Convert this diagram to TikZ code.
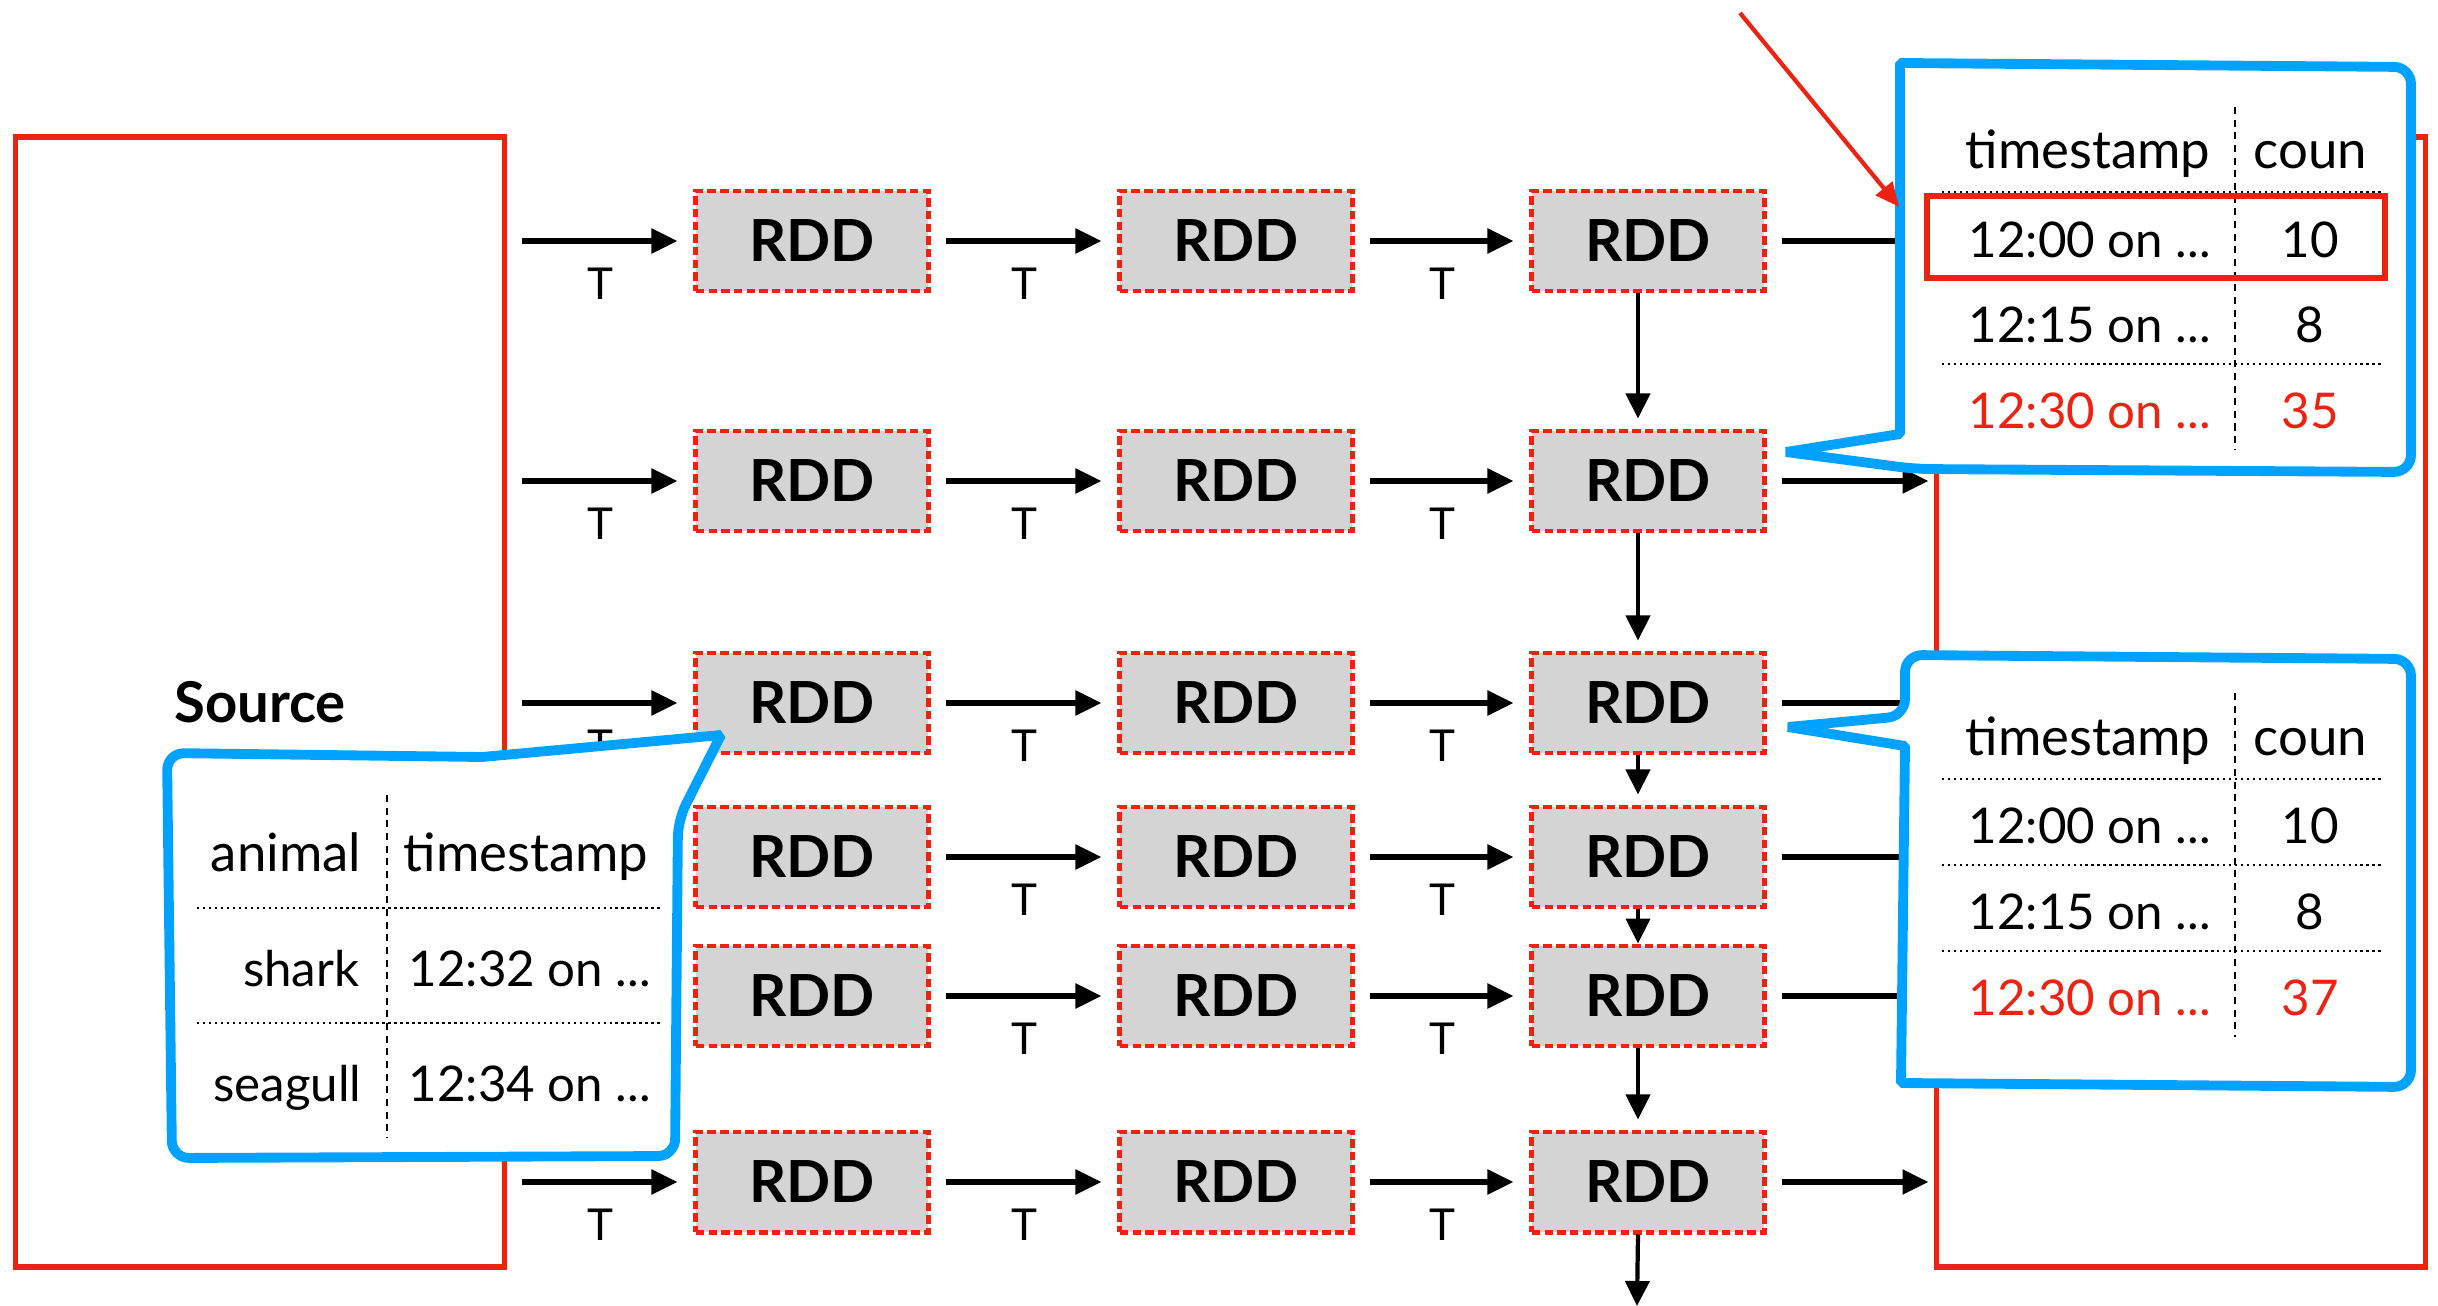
\documentclass[tikz,border=0pt]{standalone}
\usepackage{fontspec}
\setmainfont{Lato}
\usetikzlibrary{arrows.meta,quotes,positioning}

\definecolor{boxred}{RGB}{238,34,17}
\definecolor{callblue}{RGB}{0,162,255}
\definecolor{rddgray}{RGB}{212,212,212}

\begin{document}
\begin{tikzpicture}[x=0.01cm, y=-0.01cm,
  rdd/.style={draw=boxred, fill=rddgray, line width=1.4pt, dash pattern=on 2.4pt off 1.2pt,
    minimum width=2.32cm, minimum height=1cm, inner sep=0pt, font=\fontsize{16.5}{19}\selectfont\bfseries},
  stream/.style={draw=boxred, line width=1.6pt, minimum width=4.89cm, minimum height=11.29cm,
    inner sep=0pt, font=\fontsize{16}{19}\selectfont\bfseries},
  flow/.style={line width=1.5pt, -{Triangle[length=0.26cm,width=0.24cm]}, shorten <=0.15cm, shorten >=0.16cm},
  down/.style={line width=1.2pt, -{Triangle[length=0.25cm,width=0.24cm]}, shorten >=0.1cm},
  pointer/.style={draw=boxred, line width=1.2pt, -{Triangle[length=0.24cm,width=0.21cm]}, shorten >=0.39cm},
  callout/.style={draw=callblue, fill=white, line width=2.8pt, line join=bevel},
  cell/.style={inner sep=0pt, font=\fontsize{14}{17}\selectfont},
  head/.style={inner sep=0pt, font=\fontsize{15}{18}\selectfont},
  rowline/.style={densely dotted, line width=0.7pt},
  colline/.style={dash pattern=on 2pt off 1.6pt, line width=0.6pt},
  every edge quotes/.append style={font=\fontsize{12.5}{15}\selectfont, inner sep=0.24cm}]
\useasboundingbox (0,0) rectangle (2438,1306);

% input and output streams
\node[stream] (source) at (260,702) {Source};
\node[stream] (sink) at (2181,702) {};

% RDDs, one row per batch
\node[rdd] (r1c1) at (812,241) {RDD};
\node[rdd] (r1c2) at (1236,241) {RDD};
\node[rdd] (r1c3) at (1648,241) {RDD};
\node[rdd] (r2c1) at (812,481) {RDD};
\node[rdd] (r2c2) at (1236,481) {RDD};
\node[rdd] (r2c3) at (1648,481) {RDD};
\node[rdd] (r3c1) at (812,703) {RDD};
\node[rdd] (r3c2) at (1236,703) {RDD};
\node[rdd] (r3c3) at (1648,703) {RDD};
\node[rdd] (r4c1) at (812,857) {RDD};
\node[rdd] (r4c2) at (1236,857) {RDD};
\node[rdd] (r4c3) at (1648,857) {RDD};
\node[rdd] (r5c1) at (812,996) {RDD};
\node[rdd] (r5c2) at (1236,996) {RDD};
\node[rdd] (r5c3) at (1648,996) {RDD};
\node[rdd] (r6c1) at (812,1182) {RDD};
\node[rdd] (r6c2) at (1236,1182) {RDD};
\node[rdd] (r6c3) at (1648,1182) {RDD};
\coordinate (bot) at (1637,1306);

\draw[flow] (source.east |- r1c1) to ["T"'] (r1c1);
\draw[flow] (r1c1) to ["T"'] (r1c2);
\draw[flow] (r1c2) to ["T"'] (r1c3);
\draw[flow] (source.east |- r2c1) to ["T"'] (r2c1);
\draw[flow] (r2c1) to ["T"'] (r2c2);
\draw[flow] (r2c2) to ["T"'] (r2c3);
\draw[flow] (source.east |- r3c1) to ["T"'] (r3c1);
\draw[flow] (r3c1) to ["T"'] (r3c2);
\draw[flow] (r3c2) to ["T"'] (r3c3);
\draw[flow] (r4c1) to ["T"'] (r4c2);
\draw[flow] (r4c2) to ["T"'] (r4c3);
\draw[flow] (r5c1) to ["T"'] (r5c2);
\draw[flow] (r5c2) to ["T"'] (r5c3);
\draw[flow] (source.east |- r6c1) to ["T"'] (r6c1);
\draw[flow] (r6c1) to ["T"'] (r6c2);
\draw[flow] (r6c2) to ["T"'] (r6c3);
\draw[flow, shorten >=0.05cm] (r1c3) -- (r1c3 -| sink.west);
\draw[flow, shorten >=0.05cm] (r2c3) -- (r2c3 -| sink.west);
\draw[flow, shorten >=0.05cm] (r3c3) -- (r3c3 -| sink.west);
\draw[flow, shorten >=0.05cm] (r4c3) -- (r4c3 -| sink.west);
\draw[flow, shorten >=0.05cm] (r5c3) -- (r5c3 -| sink.west);
\draw[flow, shorten >=0.05cm] (r6c3) -- (r6c3 -| sink.west);

% running state passed down
\draw[down] ([xshift=-0.1cm]r1c3.south) -- ([xshift=-0.1cm]r2c3.north);
\draw[down] ([xshift=-0.1cm]r2c3.south) -- ([xshift=-0.1cm]r3c3.north);
\draw[down] ([xshift=-0.1cm]r3c3.south) -- ([xshift=-0.1cm]r4c3.north);
\draw[down, shorten >=0pt] ([xshift=-0.1cm]r4c3.south) -- ([xshift=-0.1cm]r5c3.north);
\draw[down] ([xshift=-0.1cm]r5c3.south) -- ([xshift=-0.1cm]r6c3.north);
\draw[down, shorten >=0pt] ([xshift=-0.1cm]r6c3.south) -- (bot);

% callout: new records
\draw[callout] (721,735) -- (482,757) [rounded corners=0.17cm] -- (167,753) -- (172,1158)
  -- (675,1156) -- (678,820) [sharp corners] -- cycle;
\node[head, anchor=base east] (ah1) at (362,871) {animal};
\node[head, anchor=base west] (ah2) at (403,871) {timestamp};
\node[cell, anchor=base east] (aa1) at (360,986) {shark};
\node[cell, anchor=base west] (aa2) at (408,986) {12:32 on ...};
\node[cell, anchor=base east] (ab1) at (362,1101) {seagull};
\node[cell, anchor=base west] (ab2) at (408,1101) {12:34 on ...};
\draw[rowline] (197,908) -- (661,908);
\draw[rowline] (197,1023) -- (661,1023);
\draw[colline] (387,795) -- (387,1137);

% callout: counts after first batch
\draw[callout] (1786,452) -- (1900,434) -- (1900,63) [rounded corners=0.17cm] -- (2411,67)
  -- (2411,472) -- (1915,469) [sharp corners] -- cycle;
\node[head, anchor=base west] (ch1) at (1965,168) {timestamp};
\node[head, anchor=base west] (ch2) at (2253,168) {coun};
\node[cell, anchor=base west] (ca1) at (1968,257) {12:00 on ...};
\node[cell, anchor=base] (ca2) at (2310,257) {10};
\node[cell, anchor=base west] (cb1) at (1968,342) {12:15 on ...};
\node[cell, anchor=base] (cb2) at (2310,342) {8};
\node[cell, anchor=base west, text=boxred] (cc1) at (1968,428) {12:30 on ...};
\node[cell, anchor=base, text=boxred] (cc2) at (2310,428) {35};
\draw[rowline] (1942,192) -- (2383,192);
\draw[rowline] (1942,279) -- (2383,279);
\draw[rowline] (1942,364) -- (2383,364);
\draw[colline] (2235,107) -- (2235,450);
\node[draw=boxred, line width=1.7pt, minimum width=4.58cm, minimum height=0.82cm, inner sep=0pt] (hl) at (2156,237) {};

% callout: counts after late data
\draw[callout] (1788,727) -- (1905,746) -- (1901,1083) [rounded corners=0.17cm] -- (2411,1087)
  -- (2411,659) -- (1905,655) -- (1905,716) [sharp corners] -- cycle;
\node[head, anchor=base west] (dh1) at (1965,755) {timestamp};
\node[head, anchor=base west] (dh2) at (2253,755) {coun};
\node[cell, anchor=base west] (da1) at (1968,843) {12:00 on ...};
\node[cell, anchor=base] (da2) at (2310,843) {10};
\node[cell, anchor=base west] (db1) at (1968,929) {12:15 on ...};
\node[cell, anchor=base] (db2) at (2310,929) {8};
\node[cell, anchor=base west, text=boxred] (dc1) at (1968,1015) {12:30 on ...};
\node[cell, anchor=base, text=boxred] (dc2) at (2310,1015) {37};
\draw[rowline] (1942,779) -- (2383,779);
\draw[rowline] (1942,865) -- (2383,865);
\draw[rowline] (1942,951) -- (2383,951);
\draw[colline] (2235,693) -- (2235,1037);

\coordinate (hint) at (1740,13);
\draw[pointer] (hint) -- (hl.west);
\end{tikzpicture}
\end{document}
